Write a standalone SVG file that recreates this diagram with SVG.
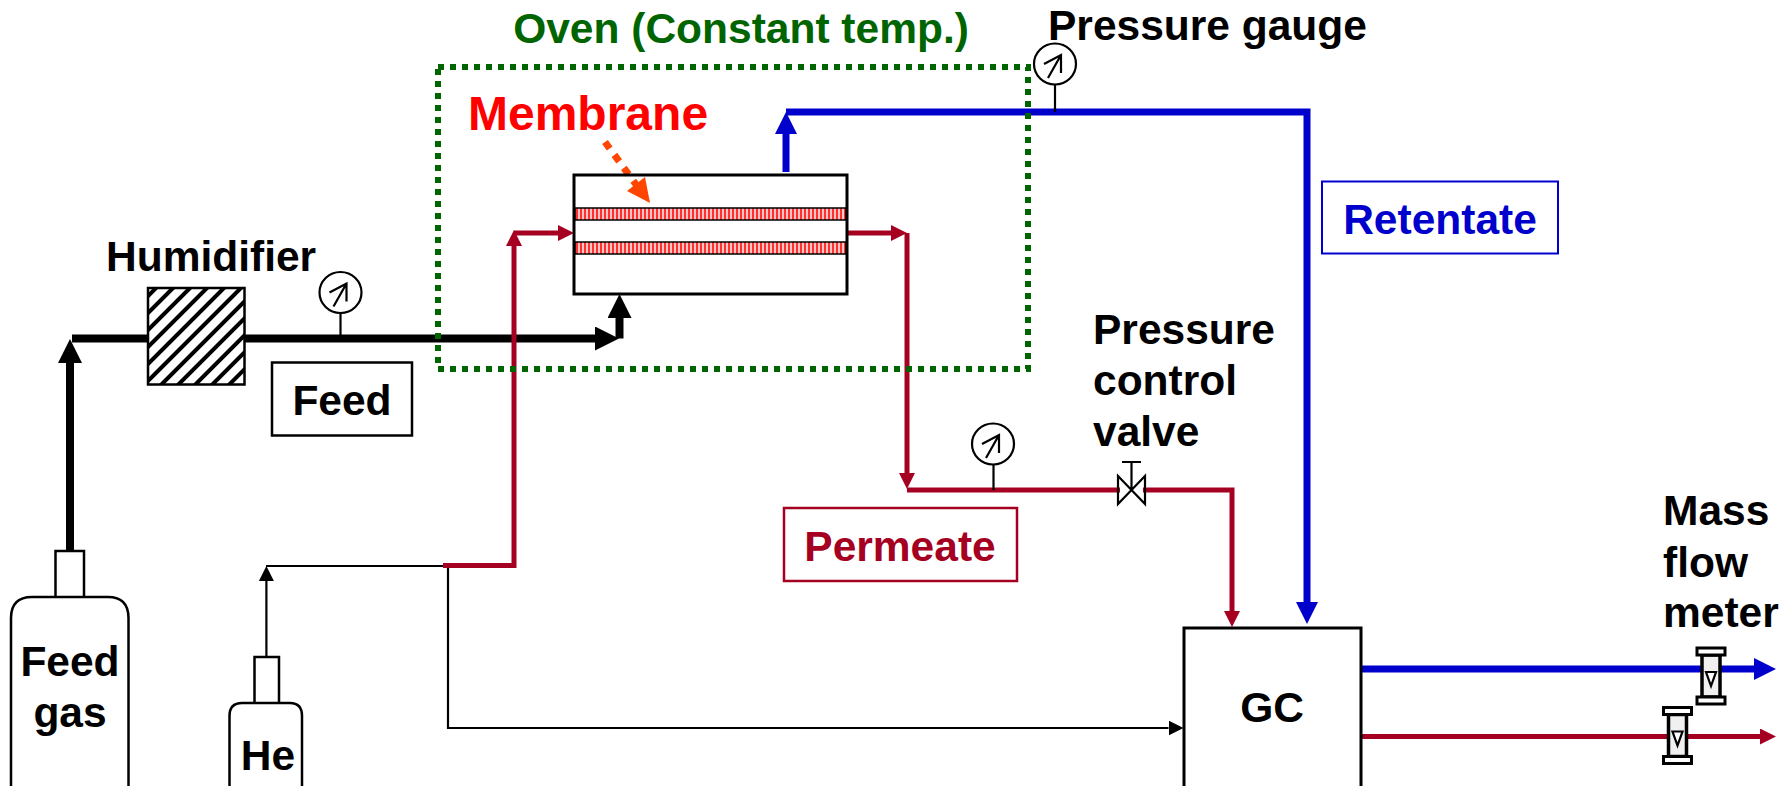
<svg xmlns="http://www.w3.org/2000/svg" width="1790" height="786" viewBox="0 0 1790 786">
<style>
text{font-family:"Liberation Sans",Arial,sans-serif;font-weight:700;font-size:42.5px;fill:#000}
.mid{text-anchor:middle}
.red{fill:#a50021}.blue{fill:#0000cc}
.box{fill:#fff;stroke:#000;stroke-width:2.5}
.thin{fill:none;stroke:#000;stroke-width:2.2}
.fat{fill:none;stroke:#000;stroke-width:8}
.bl{fill:none;stroke:#0000cc;stroke-width:7}
.rd{fill:none;stroke:#a50021;stroke-width:5}
.eq{fill:#fff;stroke:#000;stroke-width:3}
.fm{fill:#f0f0f0;stroke:#000;stroke-width:3.5}
</style>
<defs>
<marker id="hBlack" markerUnits="userSpaceOnUse" markerWidth="24" markerHeight="24" viewBox="0 0 24 24" refX="0" refY="12" orient="auto"><path d="M0 0L24 12L0 24Z" fill="#000"/></marker>
<marker id="hBlue" markerUnits="userSpaceOnUse" markerWidth="22" markerHeight="22" viewBox="0 0 22 22" refX="0" refY="11" orient="auto"><path d="M0 0L22 11L0 22Z" fill="#0000cc"/></marker>
<marker id="hRed" markerUnits="userSpaceOnUse" markerWidth="16" markerHeight="16" viewBox="0 0 16 16" refX="0" refY="8" orient="auto"><path d="M0 0L16 8L0 16Z" fill="#a50021"/></marker>
<marker id="hThin" markerUnits="userSpaceOnUse" markerWidth="15" markerHeight="15" viewBox="0 0 15 15" refX="0" refY="7.5" orient="auto"><path d="M0 0L15 7.5L0 15Z" fill="#000"/></marker>
<pattern id="hatch" width="12" height="12" patternUnits="userSpaceOnUse" patternTransform="rotate(-45)"><rect width="12" height="12" fill="#fff"/><rect y="0" width="12" height="4" fill="#000"/></pattern>
<pattern id="mem" width="4" height="10" patternUnits="userSpaceOnUse"><rect width="4" height="10" fill="#ff3030"/><rect x="2" width="2" height="10" fill="#ffc4c4"/></pattern>
<g id="gaugeSym"><ellipse cx="0" cy="0" rx="21" ry="20.500" fill="#fff" stroke="#000" stroke-width="2.200"/><path d="M-7 14L6 -9M-11 0L6 -9L6 9" fill="none" stroke="#000" stroke-width="2.200"/></g>
<g id="fmSym"><rect class="fm" x="5" y="7" width="18" height="42"/><rect class="eq" x="0" y="0" width="28" height="7"/><rect class="eq" x="0" y="49" width="28" height="7"/><path d="M9 24H19L14 38Z" fill="#fff" stroke="#000" stroke-width="2.200"/></g>
</defs>
<rect width="1790" height="786" fill="#fff"/>

<g id="connectors">
<path class="fat" d="M70 551V363" marker-end="url(#hBlack)"/>
<path class="fat" d="M72 338.500H148M244 338.500H595" marker-end="url(#hBlack)"/>
<path class="fat" d="M619.500 338.500V318" marker-end="url(#hBlack)"/>
<path class="bl" d="M786 172V134" marker-end="url(#hBlue)"/>
<path class="bl" d="M786 112H1307V602" marker-end="url(#hBlue)"/>
<path class="bl" d="M1361 669H1754" marker-end="url(#hBlue)"/>
<path class="thin" d="M266.400 657V581" marker-end="url(#hThin)"/>
<path class="thin" d="M266 566H448V728H1168.500" marker-end="url(#hThin)"/>
<path class="rd" d="M443 565.500H514V246" marker-end="url(#hRed)"/>
<path class="rd" d="M514 233H558" marker-end="url(#hRed)"/>
<path class="rd" d="M847 233H891" marker-end="url(#hRed)"/>
<path class="rd" d="M907 233V473" marker-end="url(#hRed)"/>
<path class="rd" d="M907 490H1120"/>
<path class="rd" d="M1143 490H1232V611" marker-end="url(#hRed)"/>
<path class="rd" d="M1361 736.500H1760" marker-end="url(#hRed)"/>
<path d="M605 142L640 190" fill="none" stroke="#ff4500" stroke-width="7" stroke-dasharray="8 8"/>
<path d="M650 203L645 177L627 191Z" fill="#ff4500"/>
</g>

<g id="oven"><rect x="438" y="67" width="590" height="302" fill="none" stroke="#006400" stroke-width="6" stroke-dasharray="6 6"/><text class="mid" x="741" y="43" style="fill:#006400">Oven (Constant temp.)</text></g>

<g id="membrane-module">
<rect x="575" y="208" width="271" height="12" fill="url(#mem)" stroke="#000" stroke-width="1.500"/>
<rect x="575" y="242" width="271" height="12" fill="url(#mem)" stroke="#000" stroke-width="1.500"/>
<rect x="574" y="175" width="273" height="119" fill="none" stroke="#000" stroke-width="3"/>
</g>
<g id="membrane-label"><text x="468" y="130" style="font-size:48px;fill:#ff0000">Membrane</text></g>

<g id="humidifier"><rect x="148" y="288" width="96.500" height="96.500" fill="url(#hatch)" stroke="#000" stroke-width="2.500"/><text x="106" y="271">Humidifier</text></g>
<g id="feed-label"><rect class="box" x="272" y="362.500" width="140" height="73"/><text class="mid" x="342" y="415">Feed</text></g>
<g id="gauge-feed"><path class="thin" d="M340.500 313V338"/><use href="#gaugeSym" x="340.500" y="292.500"/></g>
<g id="gauge-retentate"><path class="thin" d="M1055 85V112"/><use href="#gaugeSym" x="1055" y="64"/><text x="1048" y="40">Pressure gauge</text></g>
<g id="gauge-permeate"><path class="thin" d="M993.500 465V490"/><use href="#gaugeSym" x="993" y="444"/></g>
<g id="feed-gas"><path class="box" d="M55.500 597V551H84V597M11 790V618Q11 597 32 597H108Q128.500 597 128.500 618V790Z"/><text class="mid" x="70" y="676">Feed</text><text class="mid" x="70" y="727">gas</text></g>
<g id="he"><path class="box" d="M254.500 703V657H279V703M229.500 790V716Q229.500 703 242 703H290Q302 703 302 716V790Z"/><text class="mid" x="268" y="770">He</text></g>
<g id="retentate-label"><rect x="1322" y="181.500" width="236" height="72" fill="#fff" stroke="#0000cc" stroke-width="2"/><text class="mid blue" x="1440" y="234">Retentate</text></g>
<g id="permeate-label"><rect x="784" y="508" width="233" height="73" fill="#fff" stroke="#a50021" stroke-width="2.500"/><text class="mid red" x="900" y="561">Permeate</text></g>
<g id="valve"><path class="thin" d="M1118 476L1145 504V476L1118 504ZM1131.500 490V462M1122 462H1141"/><text x="1093" y="344">Pressure</text><text x="1093" y="395">control</text><text x="1093" y="446">valve</text></g>
<g id="gc"><rect x="1184" y="628" width="177" height="160" fill="#fff" stroke="#000" stroke-width="3"/><text class="mid" x="1272" y="722">GC</text></g>
<g id="flowmeter-1"><use href="#fmSym" x="1697" y="648"/></g>
<g id="flowmeter-2"><use href="#fmSym" x="1663.500" y="707.500"/></g>
<g id="flow-label"><text x="1663" y="525">Mass</text><text x="1663" y="577">flow</text><text x="1663" y="627">meter</text></g>
</svg>
